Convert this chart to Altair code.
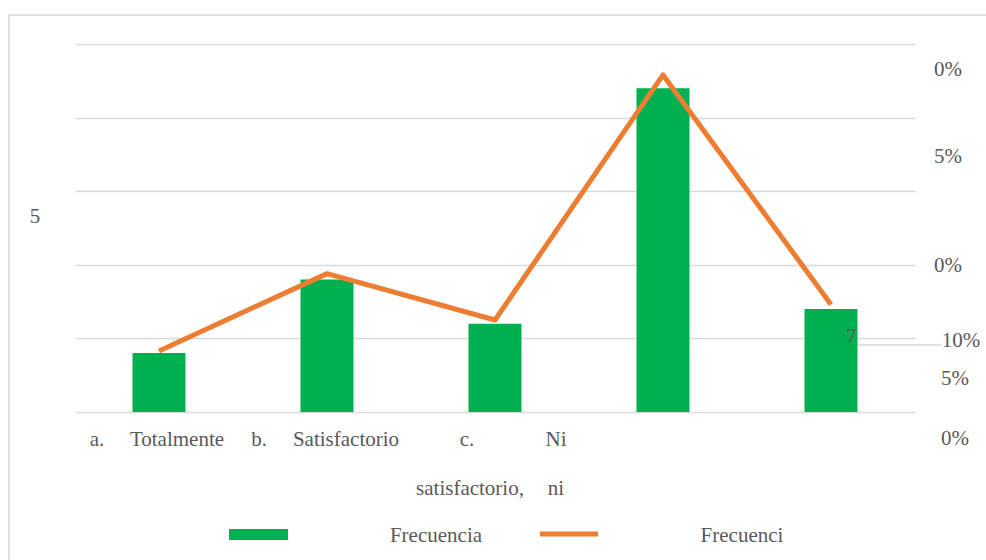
import altair as alt
import pandas as pd

# ---- data ----
categories = ["a", "b", "c", "d", "e"]
frecuencia = [4, 9, 6, 22, 7]
porcentaje = [8.3, 18.8, 12.5, 45.8, 14.6]

# garbled text pieces as they appear in the reference
x_labels_row1 = ["a.", "Totalmente", "b.", "Satisfactorio", "c.", "Ni"]
x_labels_row2 = ["satisfactorio,", "ni"]
right_labels = ["0%", "5%", "0%", "10%", "5%", "0%"]
left_label = "5"
bar_note = "7"
legend_labels = ["Frecuencia", "Frecuenci"]

GREEN = "#00B050"
ORANGE = "#ED7D31"
GRID = "#d9d9d9"
TEXT = "#595959"
FONT = "Liberation Serif"
FS = 21

df = pd.DataFrame({"cat": categories, "freq": frecuencia, "pct": porcentaje})
one = pd.DataFrame({"k": [0]})

xenc = alt.X("cat:N", sort=categories, axis=None,
             scale=alt.Scale(paddingInner=0, paddingOuter=0))

bars = alt.Chart(df).mark_bar(color=GREEN, size=53).encode(
    x=xenc,
    y=alt.Y("freq:Q", scale=alt.Scale(domain=[0, 25], nice=False),
            axis=alt.Axis(values=[0, 5, 10, 15, 20, 25], labels=False, ticks=False,
                          domain=False, grid=True, gridColor=GRID, gridWidth=1.5,
                          title=None)),
)

line = alt.Chart(df).mark_line(color=ORANGE, strokeWidth=5, strokeJoin="round").encode(
    x=xenc,
    y=alt.Y("pct:Q", scale=alt.Scale(domain=[0, 50], nice=False), axis=None),
)


def txt(s, x, y, align="center"):
    return alt.Chart(one).mark_text(
        font=FONT, fontSize=FS, color=TEXT, align=align, baseline="alphabetic"
    ).encode(x=alt.value(x), y=alt.value(y), text=alt.value(s))


layers_text = []
# left stray label
layers_text.append(txt(left_label, -40, 179))
# right stray percentage labels
rpos = [(873, 32), (873, 119), (873, 228), (886, 303), (880, 341), (880, 401)]
for s, (x, y) in zip(right_labels, rpos):
    layers_text.append(txt(s, x, y))
# note on last bar
layers_text.append(txt(bar_note, 776, 299))
# x labels
r1 = [22, 102, 184, 271, 392, 481]
for s, x in zip(x_labels_row1, r1):
    layers_text.append(txt(s, x, 402))
r2 = [395, 481]
for s, x in zip(x_labels_row2, r2):
    layers_text.append(txt(s, x, 451))
# legend texts
for s, x in zip(legend_labels, [361, 667]):
    layers_text.append(txt(s, x, 498))

short_rule = alt.Chart(one).mark_rule(color=GRID, strokeWidth=1.5).encode(
    x=alt.value(782), x2=alt.value(867), y=alt.value(301))

leg_rect = alt.Chart(one).mark_rect(color=GREEN).encode(
    x=alt.value(154), x2=alt.value(213), y=alt.value(485), y2=alt.value(496))
leg_line = alt.Chart(one).mark_rule(color=ORANGE, strokeWidth=5).encode(
    x=alt.value(465), x2=alt.value(523), y=alt.value(490))

border = alt.Chart(one).mark_rect(fill=None, stroke=GRID, strokeWidth=1.5).encode(
    x=alt.value(-66), x2=alt.value(1000), y=alt.value(-29), y2=alt.value(600))

main = alt.layer(bars, line).resolve_scale(y="independent")

chart = alt.layer(
    border, short_rule, main, leg_rect, leg_line, *layers_text
).properties(
    width=840, height=368,
    autosize=alt.AutoSizeParams(type="none"),
    padding={"left": 75, "top": 44, "right": 71, "bottom": 148},
    background="white",
).configure_view(stroke=None)

chart.save("out.html", embed_options={"renderer": "svg", "actions": False})
